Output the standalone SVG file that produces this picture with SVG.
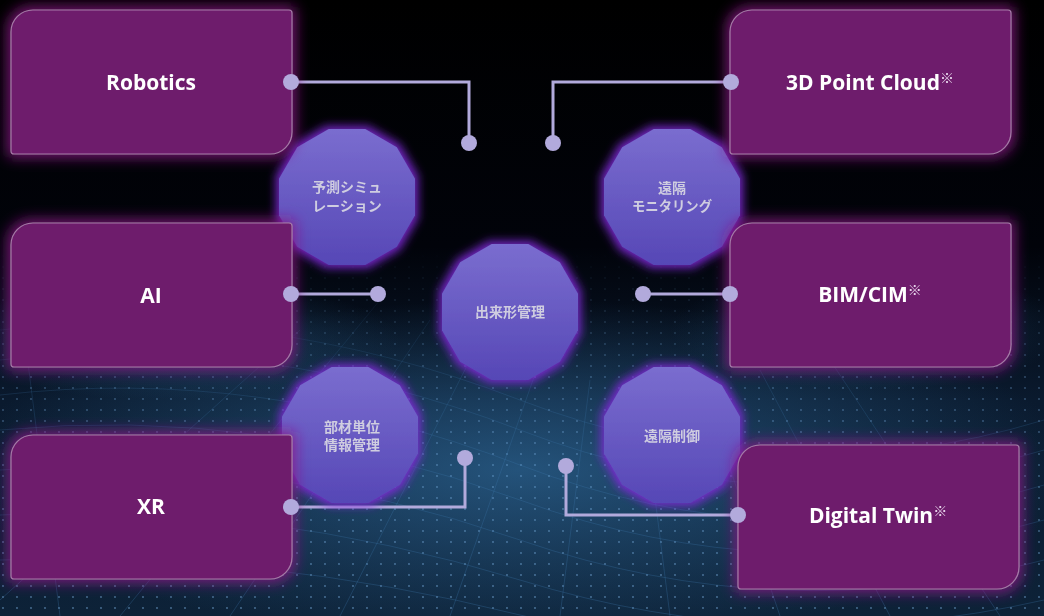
<svg xmlns="http://www.w3.org/2000/svg" width="1044" height="616" viewBox="0 0 1044 616">
<style>
.box{fill:#6e1f6c;stroke:#a77aa9;stroke-width:1.2}
.lbl{font-family:"Open Sans","Noto Sans","Noto Sans CJK JP",sans-serif;font-weight:700;font-size:21px;fill:#ffffff;text-anchor:middle}
.sup{font-family:"Noto Sans CJK JP",sans-serif;font-size:14px;font-weight:700;fill:#ead8ee}
.jp{font-family:"Noto Sans CJK JP","Noto Sans CJK SC",sans-serif;font-weight:700;font-size:14px;fill:#cfcde0;text-anchor:middle}
.oct{fill:url(#octFill)}
.wire{fill:none;stroke:#b2aadc;stroke-width:3}
.dot{fill:#b2aadc}
</style>
<defs>
<linearGradient id="octFill" x1="0" y1="0" x2="0" y2="1">
<stop offset="0" stop-color="#7a6dcf"/>
<stop offset="1" stop-color="#5647b6"/>
</linearGradient>
<linearGradient id="bgGrad" x1="0" y1="0" x2="0" y2="1">
<stop offset="0" stop-color="#000000"/>
<stop offset="0.4" stop-color="#01030a"/>
<stop offset="0.65" stop-color="#0a1a2e"/>
<stop offset="1" stop-color="#0d2238"/>
</linearGradient>
<radialGradient id="blueGlow" cx="0.5" cy="0.5" r="0.5">
<stop offset="0" stop-color="#2f6a9a" stop-opacity="0.7"/>
<stop offset="1" stop-color="#2f6a9a" stop-opacity="0"/>
</radialGradient>
<pattern id="dots" width="14" height="11" patternUnits="userSpaceOnUse">
<circle cx="3" cy="3" r="0.9" fill="#8fc8ff" fill-opacity="0.55"/>
</pattern>
<linearGradient id="fadeMask" x1="0" y1="0" x2="0" y2="1">
<stop offset="0" stop-color="#fff" stop-opacity="0"/>
<stop offset="0.35" stop-color="#fff" stop-opacity="0.6"/>
<stop offset="1" stop-color="#fff" stop-opacity="0.9"/>
</linearGradient>
<mask id="meshMask"><rect x="0" y="250" width="1044" height="366" fill="url(#fadeMask)"/></mask>
<filter id="boxGlow" x="-20%" y="-25%" width="140%" height="150%">
<feFlood flood-color="#8c1488" flood-opacity="0.85"/>
<feComposite in2="SourceAlpha" operator="in"/>
<feMorphology operator="dilate" radius="3"/>
<feGaussianBlur stdDeviation="7"/>
<feMerge><feMergeNode/><feMergeNode in="SourceGraphic"/></feMerge>
</filter>
<filter id="octGlow" x="-25%" y="-25%" width="150%" height="150%">
<feFlood flood-color="#7f28d8" flood-opacity="0.9"/>
<feComposite in2="SourceAlpha" operator="in"/>
<feMorphology operator="dilate" radius="3"/>
<feGaussianBlur stdDeviation="5"/>
<feMerge><feMergeNode/><feMergeNode in="SourceGraphic"/></feMerge>
</filter>
<path id="tag" d="M22,0 H278 Q281,0 281,3 V122 A22 22 0 0 1 259,144 H3 Q0,144 0,141 V22 A22 22 0 0 1 22,0 Z"/>
<polygon id="dodec" points="68,18.2 49.8,49.8 18.2,68 -18.2,68 -49.8,49.8 -68,18.2 -68,-18.2 -49.8,-49.8 -18.2,-68 18.2,-68 49.8,-49.8 68,-18.2"/>
</defs>

<g id="background">
<rect width="1044" height="616" fill="url(#bgGrad)"/>
<ellipse cx="520" cy="470" rx="560" ry="170" fill="url(#blueGlow)"/>
<ellipse cx="170" cy="340" rx="230" ry="60" fill="url(#blueGlow)" opacity="0.6"/>
<ellipse cx="870" cy="330" rx="200" ry="60" fill="url(#blueGlow)" opacity="0.5"/>
<g mask="url(#meshMask)">
<rect x="0" y="250" width="1044" height="366" fill="url(#dots)"/>
<g stroke="#4a8cc4" stroke-opacity="0.35" stroke-width="0.8" fill="none">
<path d="M0,330 Q260,300 520,400 T1044,420"/>
<path d="M0,360 Q260,330 520,430 T1044,450"/>
<path d="M0,395 Q260,365 520,465 T1044,485"/>
<path d="M0,430 Q260,405 520,500 T1044,520"/>
<path d="M0,470 Q260,450 520,540 T1044,560"/>
<path d="M0,515 Q260,500 520,580 T1044,600"/>
<path d="M0,560 Q260,550 520,615 T1044,630"/>
<path d="M120,616 L380,300"/>
<path d="M230,616 L430,320"/>
<path d="M340,616 L480,340"/>
<path d="M450,616 L540,360"/>
<path d="M560,616 L590,380"/>
<path d="M670,616 L640,380"/>
<path d="M780,616 L700,380"/>
<path d="M890,616 L760,370"/>
<path d="M1000,616 L830,360"/>
<path d="M0,600 L300,330"/>
<path d="M60,616 L20,300"/>
</g>
</g>
</g>

<g id="connectors">
<polyline class="wire" points="291,82 469,82 469,143"/>
<polyline class="wire" points="731,82 553,82 553,143"/>
<polyline class="wire" points="291,294 378,294"/>
<polyline class="wire" points="643,294 730,294"/>
<polyline class="wire" points="291,507 465,507 465,458"/>
<polyline class="wire" points="566,466 566,515 738,515"/>
</g>

<g id="node-prediction" filter="url(#octGlow)">
<use href="#dodec" class="oct" transform="translate(347,197)"/>
<text class="jp" x="347" y="192">予測シミュ</text>
<text class="jp" x="347" y="211">レーション</text>
</g>
<g id="node-monitoring" filter="url(#octGlow)">
<use href="#dodec" class="oct" transform="translate(672,197)"/>
<text class="jp" x="672" y="193">遠隔</text>
<text class="jp" x="672" y="211" textLength="80" lengthAdjust="spacingAndGlyphs">モニタリング</text>
</g>
<g id="node-dekigata" filter="url(#octGlow)">
<use href="#dodec" class="oct" transform="translate(510,312)"/>
<text class="jp" x="510" y="317">出来形管理</text>
</g>
<g id="node-buzai" filter="url(#octGlow)">
<use href="#dodec" class="oct" transform="translate(350,435)"/>
<text class="jp" x="352" y="432">部材単位</text>
<text class="jp" x="352" y="450">情報管理</text>
</g>
<g id="node-control" filter="url(#octGlow)">
<use href="#dodec" class="oct" transform="translate(672,435)"/>
<text class="jp" x="672" y="441">遠隔制御</text>
</g>

<g id="node-robotics" filter="url(#boxGlow)">
<use href="#tag" class="box" x="11" y="10"/>
<text class="lbl" x="151" y="90">Robotics</text>
</g>
<g id="node-ai" filter="url(#boxGlow)">
<use href="#tag" class="box" x="11" y="223"/>
<text class="lbl" x="151" y="303">AI</text>
</g>
<g id="node-xr" filter="url(#boxGlow)">
<use href="#tag" class="box" x="11" y="435"/>
<text class="lbl" x="151" y="514">XR</text>
</g>
<g id="node-pointcloud" filter="url(#boxGlow)">
<use href="#tag" class="box" x="730" y="10"/>
<text class="lbl" x="870" y="90">3D Point Cloud<tspan class="sup" dy="-7">※</tspan></text>
</g>
<g id="node-bimcim" filter="url(#boxGlow)">
<use href="#tag" class="box" x="730" y="223"/>
<text class="lbl" x="870" y="302">BIM/CIM<tspan class="sup" dy="-7">※</tspan></text>
</g>
<g id="node-digitaltwin" filter="url(#boxGlow)">
<use href="#tag" class="box" x="738" y="445"/>
<text class="lbl" x="878" y="523">Digital Twin<tspan class="sup" dy="-7">※</tspan></text>
</g>

<g id="connector-dots">
<circle class="dot" cx="291" cy="82" r="8"/>
<circle class="dot" cx="469" cy="143" r="8"/>
<circle class="dot" cx="731" cy="82" r="8"/>
<circle class="dot" cx="553" cy="143" r="8"/>
<circle class="dot" cx="291" cy="294" r="8"/>
<circle class="dot" cx="378" cy="294" r="8"/>
<circle class="dot" cx="643" cy="294" r="8"/>
<circle class="dot" cx="730" cy="294" r="8"/>
<circle class="dot" cx="291" cy="507" r="8"/>
<circle class="dot" cx="465" cy="458" r="8"/>
<circle class="dot" cx="566" cy="466" r="8"/>
<circle class="dot" cx="738" cy="515" r="8"/>
</g>
</svg>
